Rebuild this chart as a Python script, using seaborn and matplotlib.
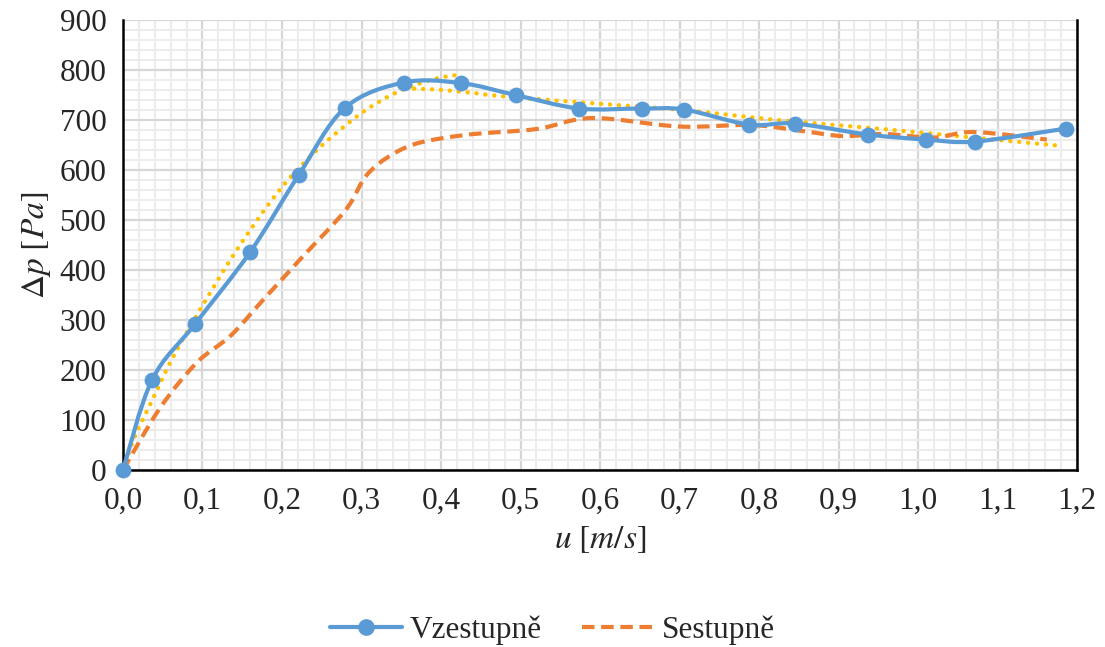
import numpy as np
import pandas as pd
import matplotlib
matplotlib.use("Agg")
import matplotlib.pyplot as plt
from matplotlib.path import Path
from matplotlib.patches import PathPatch
from matplotlib.lines import Line2D
from matplotlib.ticker import MultipleLocator, FuncFormatter
import seaborn as sns

# Pressure drop vs. superficial velocity
u_up = [0.0, 0.0365, 0.0906, 0.160, 0.221, 0.279, 0.353, 0.425, 0.494,
        0.574, 0.653, 0.706, 0.787, 0.845, 0.937, 1.010, 1.072, 1.186]
dp_up = [0, 180, 292, 436, 590, 724, 775, 774, 750,
         723, 723, 721, 691, 693, 671, 661, 657, 683]

u_down = [0.0, 0.047, 0.093, 0.135, 0.175, 0.225, 0.280, 0.310, 0.360, 0.430,
          0.520, 0.590, 0.700, 0.790, 0.855, 0.905, 0.958, 1.020, 1.070, 1.162]
dp_down = [0, 125, 215, 268, 338, 425, 520, 596, 648, 670,
           682, 704, 687, 690, 678, 668, 672, 665, 676, 661]

# fitted curve (two branches)
u_fit_a = [0.0, 0.015, 0.036, 0.061, 0.093, 0.143, 0.197, 0.244, 0.294,
           0.327, 0.355, 0.394, 0.424]
dp_fit_a = [0, 67, 137, 220, 310, 440, 560, 640, 707,
            741, 763, 783, 791]
u_fit_b = [0.355, 0.394, 0.436, 0.474, 0.579, 0.704, 0.830, 0.956, 1.082, 1.182]
dp_fit_b = [763, 761, 755, 748, 735, 720, 699, 682, 663, 648]

x_ticks = [0.0, 0.1, 0.2, 0.3, 0.4, 0.5, 0.6, 0.7, 0.8, 0.9, 1.0, 1.1, 1.2]
y_ticks = [0, 100, 200, 300, 400, 500, 600, 700, 800, 900]

BLUE = "#5B9BD5"
ORANGE = "#ED7D31"
YELLOW = "#FFC000"

sns.set_theme(style="white")
plt.rcParams["font.family"] = ["Liberation Serif", "DejaVu Serif"]
plt.rcParams["mathtext.fontset"] = "stix"


def smooth_path(xs, ys):
    """Cubic Bezier path through the points (Catmull-Rom tangents)."""
    pts = np.column_stack([xs, ys]).astype(float)
    n = len(pts)
    verts = [pts[0]]
    codes = [Path.MOVETO]
    for i in range(n - 1):
        p0 = pts[i - 1] if i > 0 else pts[i]
        p1 = pts[i]
        p2 = pts[i + 1]
        p3 = pts[i + 2] if i + 2 < n else pts[i + 1]
        c1 = p1 + (p2 - p0) / 6.0
        c2 = p2 - (p3 - p1) / 6.0
        verts += [c1, c2, p2]
        codes += [Path.CURVE4] * 3
    return Path(verts, codes)


fig, ax = plt.subplots(figsize=(11.05, 6.47), dpi=100)
fig.subplots_adjust(left=0.1113, right=0.9747, bottom=0.2736, top=0.969)

ax.set_xlim(0, 1.2)
ax.set_ylim(0, 900)

# grid
ax.xaxis.set_major_locator(MultipleLocator(0.1))
ax.xaxis.set_minor_locator(MultipleLocator(0.02))
ax.yaxis.set_major_locator(MultipleLocator(100))
ax.yaxis.set_minor_locator(MultipleLocator(20))
ax.grid(which="minor", color="#ECECEC", linewidth=1.4)
ax.grid(which="major", color="#D6D6D6", linewidth=1.6)
ax.set_axisbelow(True)

# fitted dotted curve
dot_style = (0, (0.01, 2.0))
for xs, ys in [(u_fit_a, dp_fit_a), (u_fit_b, dp_fit_b)]:
    ax.add_patch(PathPatch(smooth_path(xs, ys), fill=False, edgecolor=YELLOW,
                           linewidth=3.2, linestyle=dot_style,
                           capstyle="round", zorder=3))

# descending branch
ax.add_patch(PathPatch(smooth_path(u_down, dp_down), fill=False,
                       edgecolor=ORANGE, linewidth=3.0,
                       linestyle=(0, (3.0, 1.6)), capstyle="butt", zorder=4))

# ascending branch
ax.add_patch(PathPatch(smooth_path(u_up, dp_up), fill=False,
                       edgecolor=BLUE, linewidth=3.0, capstyle="round",
                       joinstyle="round", zorder=5))
df_up = pd.DataFrame({"u": u_up, "dp": dp_up})
sns.scatterplot(data=df_up, x="u", y="dp", ax=ax, color=BLUE, s=130,
                edgecolor=BLUE, linewidth=0, zorder=6, legend=False,
                clip_on=False)

ax.set_xticks(x_ticks)
ax.set_yticks(y_ticks)
ax.xaxis.set_major_formatter(FuncFormatter(lambda v, p: f"{v:.1f}".replace(".", ",")))
ax.yaxis.set_major_formatter(FuncFormatter(lambda v, p: f"{v:.0f}"))
ax.tick_params(axis="both", which="major", direction="out", length=6,
               width=1.5, color="black", labelsize=22.5, pad=6)
ax.tick_params(axis="both", which="minor", length=0)
ax.tick_params(axis="x", pad=6)

for side in ["left", "bottom", "right"]:
    ax.spines[side].set_color("black")
    ax.spines[side].set_linewidth(1.8)
ax.spines["top"].set_visible(False)

ax.set_xlabel(r"$u\ [m/s]$", fontsize=24, labelpad=6)
ax.set_ylabel(r"$\Delta p\ [Pa]$", fontsize=24, labelpad=5)

handles = [
    Line2D([], [], color=BLUE, linewidth=3.0, marker="o", markersize=11),
    Line2D([], [], color=ORANGE, linewidth=3.0, linestyle=(0, (3.0, 1.6))),
]
fig.legend(handles, ["Vzestupně", "Sestupně"], loc="center",
           bbox_to_anchor=(0.5, 0.026), ncol=2, frameon=False,
           fontsize=22.5, handlelength=2.3, handletextpad=0.25,
           columnspacing=1.3)

fig.savefig("out.png", dpi=100)
